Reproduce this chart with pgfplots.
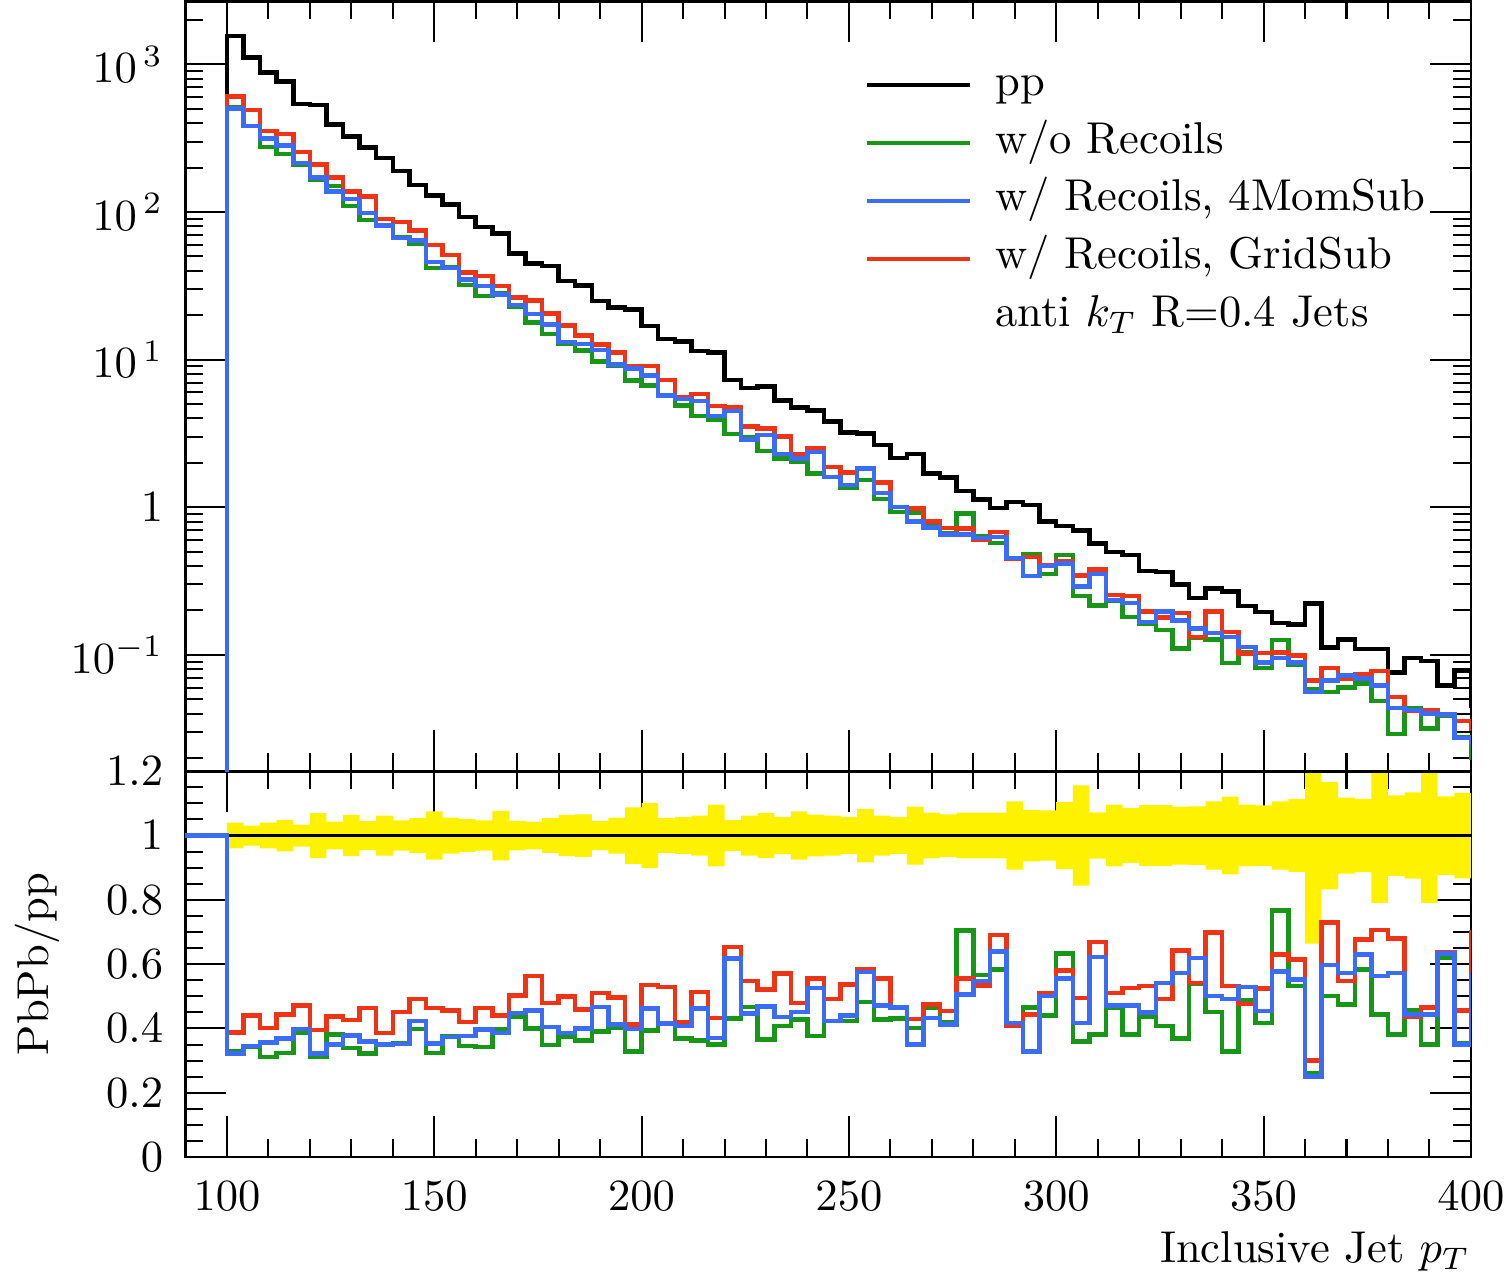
\documentclass[border=0pt]{standalone}
\usepackage{pgfplots}
\pgfplotsset{compat=1.18}
\usepackage{pgfplotstable}
\usepgfplotslibrary{fillbetween}
\definecolor{cgreen}{RGB}{24,150,24}
\definecolor{cblue}{RGB}{58,108,245}
\definecolor{cred}{RGB}{238,52,20}
% x = bin left edge, pp = pp spectrum, g/b/r = PbPb/pp ratios, e = pp relative error
\pgfplotstableread{
x pp g b r e
90 0.0001 1 1 1 0
100 1561 0.329 0.322 0.388 0.040
104 1112 0.343 0.345 0.440 0.031
108 880 0.312 0.357 0.402 0.040
112 764 0.324 0.369 0.443 0.049
116 539 0.388 0.399 0.471 0.034
120 531 0.312 0.322 0.395 0.070
124 392 0.381 0.350 0.438 0.043
128 324 0.340 0.378 0.426 0.064
132 274 0.322 0.360 0.464 0.045
136 232 0.350 0.350 0.386 0.062
140 190 0.355 0.352 0.451 0.047
144 152 0.399 0.423 0.492 0.054
148 129 0.324 0.354 0.464 0.075
152 112 0.376 0.373 0.456 0.056
156 92.6 0.345 0.376 0.420 0.051
160 79.2 0.342 0.397 0.464 0.047
164 71.3 0.397 0.386 0.441 0.077
168 52.4 0.438 0.448 0.503 0.046
172 44.7 0.400 0.456 0.563 0.043
176 42.9 0.348 0.404 0.480 0.054
180 34.1 0.373 0.386 0.500 0.064
184 31.8 0.362 0.400 0.459 0.066
188 24.9 0.391 0.467 0.510 0.045
192 22.5 0.402 0.412 0.497 0.056
196 21.9 0.329 0.399 0.412 0.088
200 16.9 0.394 0.462 0.535 0.101
204 13.8 0.417 0.415 0.529 0.054
208 13.3 0.369 0.407 0.421 0.057
212 11.4 0.363 0.462 0.513 0.062
216 11.2 0.350 0.371 0.433 0.096
220 7.28 0.431 0.618 0.654 0.048
224 6.43 0.467 0.447 0.547 0.062
228 6.56 0.366 0.469 0.521 0.070
232 5.27 0.407 0.436 0.571 0.058
236 4.75 0.428 0.452 0.480 0.075
240 4.51 0.376 0.526 0.555 0.065
244 3.80 0.423 0.423 0.492 0.062
248 3.21 0.423 0.441 0.537 0.058
252 3.17 0.482 0.576 0.584 0.083
256 2.65 0.428 0.472 0.556 0.062
260 2.15 0.431 0.466 0.467 0.057
264 2.29 0.402 0.350 0.430 0.090
268 1.69 0.464 0.433 0.475 0.071
272 1.59 0.421 0.412 0.454 0.066
276 1.29 0.705 0.506 0.556 0.071
280 1.13 0.566 0.547 0.534 0.071
284 0.985 0.584 0.639 0.690 0.071
288 1.09 0.409 0.417 0.410 0.106
292 1.04 0.466 0.329 0.443 0.080
296 0.80 0.440 0.501 0.509 0.078
300 0.748 0.633 0.556 0.580 0.104
304 0.698 0.360 0.417 0.495 0.156
308 0.567 0.381 0.623 0.669 0.072
312 0.500 0.464 0.472 0.511 0.096
316 0.475 0.381 0.472 0.526 0.085
320 0.370 0.438 0.450 0.532 0.095
324 0.364 0.407 0.542 0.492 0.095
328 0.300 0.369 0.572 0.643 0.090
332 0.244 0.539 0.620 0.542 0.091
336 0.282 0.451 0.501 0.698 0.106
340 0.268 0.329 0.492 0.532 0.121
344 0.214 0.488 0.529 0.477 0.096
348 0.196 0.417 0.454 0.524 0.094
352 0.165 0.767 0.577 0.630 0.106
356 0.161 0.532 0.552 0.615 0.113
360 0.223 0.262 0.251 0.301 0.336
364 0.112 0.501 0.598 0.729 0.167
368 0.127 0.475 0.573 0.547 0.118
372 0.110 0.584 0.630 0.677 0.114
376 0.110 0.443 0.563 0.706 0.209
380 0.0763 0.381 0.572 0.680 0.125
384 0.0954 0.457 0.443 0.438 0.134
388 0.0906 0.350 0.443 0.466 0.209
392 0.0623 0.620 0.633 0.636 0.122
396 0.0782 0.355 0.350 0.456 0.133
400 0.045 0.45 0.567 0.70 0.13
404 0.045 0.45 0.567 0.70 0.13
}\data

\begin{document}
\begin{tikzpicture}
\pgfplotsset{
  every axis/.append style={
    scale only axis, width=288.5pt,
    xmin=90, xmax=400,
    xtick={100,150,200,250,300,350,400}, minor x tick num=4,
    tick pos=both, tick align=inside,
    major tick length=9.2pt, minor tick length=4pt,
    every tick/.style={black, line width=0.45pt},
    axis line style={line width=0.6pt},
    xticklabel style={yshift=-2pt, inner xsep=1.5pt},
    yticklabel style={xshift=-1.5pt},
  },
}
\begin{axis}[
  name=bot,
  height=86.6pt,
  ymin=0, ymax=1.2,
  ytick={0,0.2,0.4,0.6,0.8,1,1.2},
  yticklabels={$0$,$0.2$,$0.4$,$0.6$,$0.8$,$1$,$1.2$},
  minor y tick num=3,
  ylabel={PbPb/pp},
  ylabel style={at={(axis description cs:-0.1154,0.5)}, anchor=center},
  xlabel={Inclusive Jet $p_T$},
  xlabel style={at={(axis description cs:1,0)}, anchor=north east, inner sep=0pt, yshift=-16.5pt},
]
\addplot[name path=up, draw=none, const plot mark left, forget plot] table[x=x, y expr=1+\thisrow{e}] {\data};
\addplot[name path=lo, draw=none, const plot mark left, forget plot] table[x=x, y expr=1-\thisrow{e}] {\data};
\addplot[fill=yellow, draw=none, forget plot] fill between[of=up and lo];
\addplot[black, line width=0.5pt, forget plot] coordinates {(90,1) (400,1)};
\addplot[cgreen, line width=1pt, const plot mark left, forget plot] table[x=x, y=g] {\data};
\addplot[cred, line width=1pt, const plot mark left, forget plot] table[x=x, y=r] {\data};
\addplot[cblue, line width=1pt, const plot mark left, forget plot] table[x=x, y=b] {\data};
\end{axis}

\begin{axis}[
  at={(bot.north west)}, anchor=south west,
  height=172.8pt,
  ymode=log, ymin=0.0163, ymax=2670,
  ytick={0.1,1,10,100,1000},
  yticklabels={$10^{-1}$,$1$,$10^{\,1}$,$10^{\,2}$,$10^{\,3}$},
  minor ytick={0.02,0.03,0.04,0.05,0.06,0.07,0.08,0.09,0.2,0.3,0.4,0.5,0.6,0.7,0.8,0.9,2,3,4,5,6,7,8,9,20,30,40,50,60,70,80,90,200,300,400,500,600,700,800,900,2000},
  xticklabels={},
  legend style={at={(axis description cs:0.5285,0.9245)}, anchor=north west,
    draw=none, fill=none, inner sep=0pt, outer sep=0pt,
    row sep=1.5pt, column sep=4.3pt,
    nodes={inner sep=1pt, text height=7pt, text depth=2.5pt}},
  legend cell align=left,
  legend image code/.code={\draw[#1, line width=1pt] (0pt,0pt) -- (23pt,0pt);},
]
\addplot[black, line width=1pt, const plot mark left, forget plot] table[x=x, y=pp] {\data};
\addplot[cgreen, line width=1pt, const plot mark left, forget plot] table[x=x, y expr=\thisrow{pp}*\thisrow{g}] {\data};
\addplot[cred, line width=1pt, const plot mark left, forget plot] table[x=x, y expr=\thisrow{pp}*\thisrow{r}] {\data};
\addplot[cblue, line width=1pt, const plot mark left, forget plot] table[x=x, y expr=\thisrow{pp}*\thisrow{b}] {\data};
\addlegendimage{black}
\addlegendentry{pp}
\addlegendimage{cgreen}
\addlegendentry{w/o Recoils}
\addlegendimage{cblue}
\addlegendentry{w/ Recoils, 4MomSub}
\addlegendimage{cred}
\addlegendentry{w/ Recoils, GridSub}
\addlegendimage{empty legend}
\addlegendentry{anti $k_T$ R=0.4 Jets}
\end{axis}
\end{tikzpicture}
\end{document}
